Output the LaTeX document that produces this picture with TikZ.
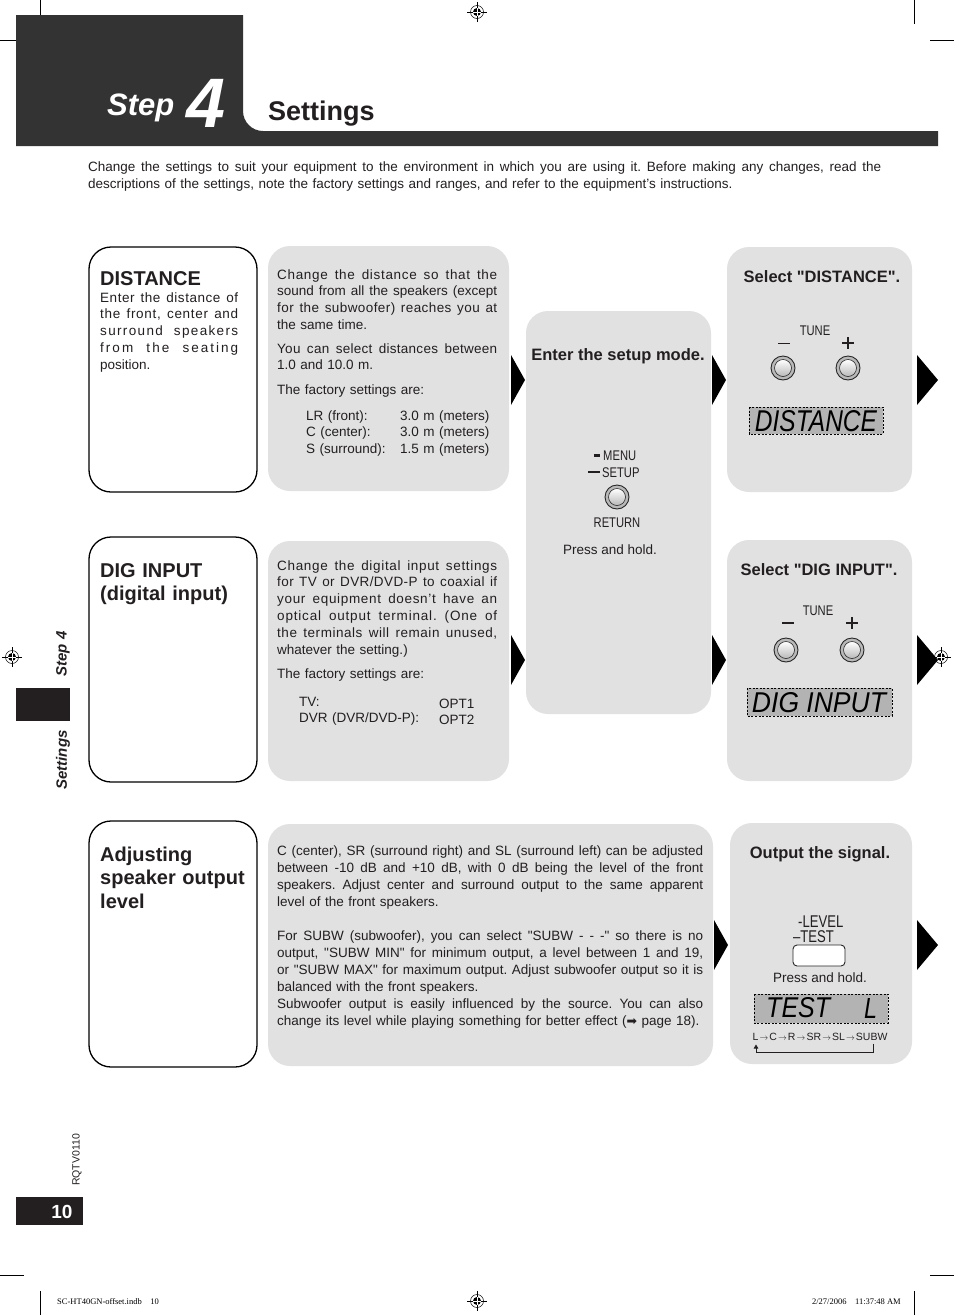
\documentclass[tikz,border=0pt]{standalone}
\usepackage{fontspec}
\setmainfont{Liberation Sans}
\newfontfamily\seriffont{Liberation Serif}
\newfontfamily\dvfont{DejaVu Sans}
\usetikzlibrary{arrows.meta}
\definecolor{boxgray}{HTML}{E1E1E1}
\definecolor{lcdgray}{HTML}{B3B3B3}
\definecolor{hdark}{HTML}{333333}
\definecolor{ink}{HTML}{231F20}
\frenchspacing
\newcommand\J[2][0]{\makebox[\hsize][s]{\addfontfeature{LetterSpace=#1}\spaceskip=0pt\xspaceskip=0pt #2}}
\newcommand\q{\textquotedbl}
\newcommand\fs[2]{\fontsize{#1}{#2}\selectfont}
\newcommand\cnd[1]{\scalebox{0.8}[1]{#1}}
\newcommand\ar{\makebox[11pt]{\scalebox{0.8}{$\rightarrow$}}}
\newcommand\knob[2]{%
  \fill[gray!55] (#1,#2) circle (12pt);
  \draw[line width=0.9pt, black!85] (#1,#2) circle (12pt);
  \shade[top color=white, bottom color=gray!55] (#1,#2) circle (8.5pt);
  \draw[line width=0.6pt, black!85] (#1,#2) circle (8.5pt);}
\newcommand\tri[3]{\fill[black] (#1,#3-25) -- (#2,#3) -- (#1,#3+25) -- cycle;}
\newcommand\regmark[2]{%
  \draw[line width=0.5pt] (#1,#2) circle (6.5pt);
  \fill[black] (#1,#2) circle (4pt);
  \draw[line width=0.5pt] (#1-10,#2) -- (#1+10,#2) (#1,#2-10) -- (#1,#2+10);
  \draw[white, line width=0.6pt] (#1-4,#2) -- (#1+4,#2) (#1,#2-4) -- (#1,#2+4);}
\tikzset{
  txt/.style={font=\fs{13.5}{16.8}, text=ink, inner sep=0pt, anchor=base west},
  ttl/.style={font=\fs{20}{23.7}\bfseries, text=ink, inner sep=0pt, anchor=base west, text width=160pt},
  hd/.style={font=\fs{16.5}{16.5}\bfseries, text=ink, inner sep=0pt, anchor=base},
  cond/.style={font=\fs{14}{14}, text=ink, inner sep=0pt, anchor=base},
  leftbox/.style={draw=black, line width=1.3pt, rounded corners=22pt, fill=white},
  graybox/.style={fill=boxgray, rounded corners=22pt},
  lcd/.style={draw=black, dash pattern=on 2pt off 1.6pt, line width=0.7pt, fill=lcdgray},
  lcdtxt/.style={inner sep=0pt, text=black},
  crop/.style={line width=0.6pt},
}
\begin{document}
\begin{tikzpicture}[x=1pt,y=-1pt]
\useasboundingbox (0,0) rectangle (954,1315);
\fill[white] (0,0) rectangle (954,1315);

% crop marks
\draw[crop] (40,0) -- (40,24) (0,40) -- (24,40);
\draw[crop] (914,0) -- (914,24) (930,40) -- (954,40);
\draw[crop] (40,1291) -- (40,1315) (0,1275) -- (24,1275);
\draw[crop] (914,1291) -- (914,1315) (930,1275) -- (954,1275);
\regmark{477}{12}
\regmark{12}{657}
\regmark{941}{657}
\regmark{477}{1301}

% header
\fill[hdark] (16,15) -- (243,15) -- (243,111) .. controls (243,122) and (252,131) .. (263,131)
  -- (938,131) -- (938,146) -- (16,146) -- cycle;
\node[white, font=\fs{31}{31}\bfseries\itshape, inner sep=0pt, anchor=base west] (steplbl) at (107,115) {Step};
\node[white, font=\fs{70}{70}\bfseries\itshape, inner sep=0pt, anchor=base west] (stepnum) at (186,127) {4};
\node[font=\fs{27}{27}\bfseries, text=ink, inner sep=0pt, anchor=base west] (title) at (268,120) {Settings};

\node[txt, font=\fs{13.5}{17}, text width=793pt] (intro) at (88,171.5)
 {\J{Change the settings to suit your equipment to the environment in which you are using it. Before making any changes, read the}\\
  descriptions of the settings, note the factory settings and ranges, and refer to the equipment's instructions.};

% ---------- Row 1 ----------
\draw[leftbox] (89,247) rectangle (257,492);
\node[ttl] (t1) at (100,285) {DISTANCE};
\node[txt, text width=138pt] (d1) at (100,302)
 {\J[4]{Enter the distance of}\\\J[5]{the front, center and}\\\J[10]{surround speakers}\\\J[15]{from the seating}\\position.};

\fill[graybox] (268,246) rectangle (509,491);
\node[txt, text width=220pt] (g1a) at (277,279)
 {\J[5]{Change the distance so that the}\\\J{sound from all the speakers (except}\\\J[3]{for the subwoofer) reaches you at}\\the same time.};
\node[txt, text width=220pt] (g1b) at (277,353)
 {\J[2]{You can select distances between}\\1.0 and 10.0 m.};
\node[txt, text width=220pt] (g1c) at (277,394) {The factory settings are:};
\node[txt, text width=100pt] (g1d) at (306,420) {LR (front):\\C (center):\\S (surround):};
\node[txt, text width=100pt] (g1e) at (400,420) {3.0 m (meters)\\3.0 m (meters)\\1.5 m (meters)};

\tri{511}{525}{380}

% middle tall box
\fill[graybox] (526,311) rectangle (711,714);
\node[hd] (setup) at (618,360) {Enter the setup mode.};
\draw[line width=2.6pt, ink] (594,455.5) -- (600,455.5);
\draw[line width=2.6pt, ink] (588,472) -- (600,472);
\node[cond, anchor=base west] (menu) at (603,460) {\cnd{MENU}};
\node[cond, anchor=base west] (setupl) at (602,477) {\cnd{SETUP}};
\knob{617}{497}
\node[cond] (ret) at (617,527) {\cnd{RETURN}};
\node[txt, anchor=base] (ph1) at (610,554) {Press and hold.};

\tri{712}{726}{380}

% right box 1
\fill[graybox] (727,247) rectangle (912,492);
\node[hd] (sel1) at (822,282) {Select \q DISTANCE\q.};
\node[cond] (tune1) at (815,335) {\cnd{TUNE}};
\draw[line width=0.9pt, ink] (778,343) -- (790,343);
\draw[line width=1.1pt, ink] (842,343) -- (854,343) (848,337) -- (848,349);
\knob{783}{368}
\knob{848}{368}
\draw[lcd] (749,407) rectangle (883,434);
\node[lcdtxt] (lcd1) at (816,421.5) {\resizebox{122pt}{21pt}{\itshape DISTANCE}};

\tri{917}{938}{380}

% ---------- Row 2 ----------
\draw[leftbox] (89,537) rectangle (257,782);
\node[ttl] (t2) at (100,577) {DIG INPUT\\(digital input)};

\fill[graybox] (268,541) rectangle (509,781);
\node[txt, text width=220pt] (g2a) at (277,570)
 {\J[5]{Change the digital input settings}\\\J[3]{for TV or DVR/DVD-P to coaxial if}\\\J[5]{your equipment doesn’t have an}\\\J[6]{optical output terminal. (One of}\\\J[4]{the terminals will remain unused,}\\whatever the setting.)};
\node[txt, text width=220pt] (g2b) at (277,678) {The factory settings are:};
\node[txt, text width=130pt] (g2c) at (299,706) {TV:\\DVR (DVR/DVD-P):};
\node[txt, text width=60pt] (g2d) at (439,708) {OPT1\\OPT2};

\tri{511}{525}{660}
\tri{712}{726}{660}

\fill[graybox] (727,540) rectangle (912,781);
\node[hd] (sel2) at (819,575) {Select \q DIG INPUT\q.};
\node[cond] (tune2) at (818,615) {\cnd{TUNE}};
\draw[line width=2pt, ink] (782,623) -- (794,623);
\draw[line width=1.1pt, ink] (846,623) -- (858,623) (852,617) -- (852,629);
\knob{786}{650}
\knob{852}{650}
\draw[lcd] (747,688) rectangle (892,716);
\node[lcdtxt] (lcd2) at (819,702.5) {\resizebox{134pt}{20pt}{\itshape DIG INPUT}};

\tri{917}{938}{660}

% ---------- Row 3 ----------
\draw[leftbox] (89,821) rectangle (257,1067);
\node[ttl] (t3) at (100,861) {Adjusting\\speaker output\\level};

\fill[graybox] (268,824) rectangle (713,1066);
\node[txt, text width=426pt, font=\fs{13.5}{17}] (g3a) at (277,855)
 {\J{C (center), SR (surround right) and SL (surround left) can be adjusted}\\
  \J{between -10 dB and +10 dB, with 0 dB being the level of the front}\\
  \J{speakers. Adjust center and surround output to the same apparent}\\
  level of the front speakers.};
\node[txt, text width=426pt, font=\fs{13.5}{17}] (g3b) at (277,940)
 {\J{For SUBW (subwoofer), you can select \q SUBW - - -\q\ so there is no}\\
  \J{output, \q SUBW MIN\q\ for minimum output, a level between 1 and 19,}\\
  \J{or \q SUBW MAX\q\ for maximum output. Adjust subwoofer output so it is}\\
  balanced with the front speakers.\\
  \J{Subwoofer output is easily influenced by the source. You can also}\\
  change its level while playing something for better effect ({\dvfont\fs{12.5}{12.5}➡} page 18).};

\tri{714}{728}{945}

\fill[graybox] (730,823) rectangle (912,1064);
\node[hd] (sel3) at (820,858) {Output the signal.};
\node[cond, font=\fs{17}{17}, anchor=base west] (lvl) at (798,927) {\scalebox{0.77}[1]{-LEVEL}};
\node[cond, font=\fs{17}{17}, anchor=base west] (tst) at (793,942) {\scalebox{0.77}[1]{–TEST}};
\draw[fill=white, draw=black!85, rounded corners=4pt, line width=0.9pt] (793,945) rectangle (845,966);
\node[txt, anchor=base] (ph2) at (820,982) {Press and hold.};
\draw[lcd] (754,994) rectangle (888,1023);
\node[lcdtxt, anchor=west] (lcd3a) at (766,1008) {\resizebox{64pt}{20pt}{\itshape TEST}};
\node[lcdtxt, anchor=west] (lcd3b) at (864,1008) {\resizebox{13pt}{20pt}{\itshape L}};
\node[txt, font=\fs{10.5}{10.5}, anchor=base] (chain) at (820,1040)
 {L\ar C\ar R\ar SR\ar SL\ar SUBW};
\coordinate (cl) at (756,1044.5);
\coordinate (cs) at (873,1043.5);
\draw[line width=0.7pt, ink, -{Triangle[length=4pt,width=4.5pt]}] (cs) -- ++(0,8.5) -| (cl);

\tri{917}{938}{945}

% ---------- side tab ----------
\node[rotate=90, font=\fs{15}{15}\bfseries\itshape, text=ink, inner sep=0pt] (tabstep) at (63,654) {Step 4};
\fill[ink] (16,688) rectangle (70,721);
\node[rotate=90, font=\fs{15}{15}\bfseries\itshape, text=ink, inner sep=0pt] (tabset) at (63,760) {Settings};

\node[rotate=90, font=\fs{10.5}{10.5}, text=ink, inner sep=0pt] (code) at (77,1160) {RQTV0110};
\fill[ink] (16,1197) rectangle (83,1225);
\node[white, font=\fs{19}{19}\bfseries, inner sep=0pt, anchor=base] (pnum) at (62,1218) {10};

% footer
\node[font=\seriffont\fs{8.5}{8.5}, inner sep=0pt, anchor=base west] (foot1) at (57,1304) {SC-HT40GN-offset.indb\hspace{1em}10};
\node[font=\seriffont\fs{8.5}{8.5}, inner sep=0pt, anchor=base east] (foot2) at (901,1304) {2/27/2006\hspace{1em}11:37:48 AM};
\end{tikzpicture}
\end{document}
